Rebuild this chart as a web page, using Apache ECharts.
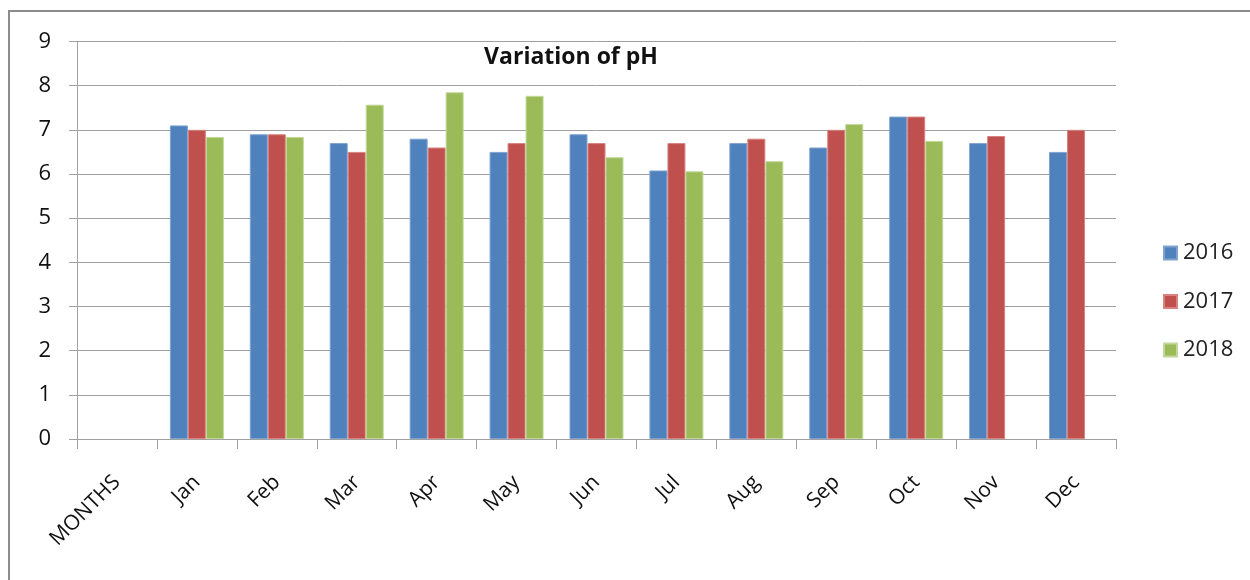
<!DOCTYPE html>
<html>
<head>
<meta charset="utf-8">
<script src="https://cdn.jsdelivr.net/npm/echarts@6/dist/echarts.min.js"></script>
<style>html,body{margin:0;padding:0;background:#fff}#c{width:1250px;height:580px}</style>
</head>
<body>
<div id="c"></div>
<script>
const categories = ['MONTHS','Jan','Feb','Mar','Apr','May','Jun','Jul','Aug','Sep','Oct','Nov','Dec'];
const s2016 = [null, 7.1, 6.9, 6.7, 6.8, 6.5, 6.9, 6.08, 6.7, 6.6, 7.3, 6.7, 6.5];
const s2017 = [null, 7.0, 6.9, 6.5, 6.6, 6.7, 6.7, 6.7, 6.8, 7.0, 7.3, 6.86, 7.0];
const s2018 = [null, 6.84, 6.84, 7.57, 7.85, 7.77, 6.38, 6.06, 6.29, 7.13, 6.75, null, null];
const yTicks = [0,1,2,3,4,5,6,7,8,9];

const font = 'Open Sans';
const chart = echarts.init(document.getElementById('c'));
const mk = (name, data, color, border) => ({
  name, type: 'bar', data, barWidth: 18, barGap: '0%',
  itemStyle: { color, borderColor: border, borderWidth: 1 }
});
chart.setOption({
  animation: false,
  backgroundColor: '#fff',
  title: {
    text: 'Variation of pH', left: 566, top: 38, textAlign: 'center',
    textStyle: { fontFamily: font, fontWeight: 'bold', fontSize: 23, color: '#111', lineHeight: 28 }
  },
  graphic: [{
    type: 'rect', shape: { x: 9, y: 11, width: 1300, height: 700 },
    style: { fill: 'none', stroke: '#8c8c8c', lineWidth: 2 }, silent: true, z: -1
  }],
  legend: {
    orient: 'vertical', left: 1158, top: 234, itemWidth: 13, itemHeight: 13, itemGap: 20.5,
    icon: 'rect',
    textStyle: { fontFamily: font, fontSize: 22, color: '#222', lineHeight: 28, padding: [0,0,0,1] },
    data: ['2016','2017','2018']
  },
  grid: { left: 77, right: 134, top: 41.5, bottom: 141, containLabel: false },
  xAxis: {
    type: 'category', data: categories,
    axisLine: { lineStyle: { color: '#a0a0a0', width: 1 } },
    axisTick: { show: true, length: 10, lineStyle: { color: '#a0a0a0' } },
    axisLabel: { rotate: 45, margin: 40, interval: 0,
      fontFamily: font, fontSize: 21, color: '#111' }
  },
  yAxis: {
    type: 'value', min: 0, max: 9, interval: 1,
    axisLine: { show: true, lineStyle: { color: '#a0a0a0', width: 1 } },
    axisTick: { show: true, length: 8, inside: false, lineStyle: { color: '#a0a0a0' } },
    splitLine: { lineStyle: { color: '#a0a0a0', width: 1 } },
    axisLabel: { margin: 26, fontFamily: font, fontSize: 22, color: '#111',
      formatter: v => yTicks.includes(v) ? String(v) : '' }
  },
  series: [
    mk('2016', s2016, '#4F81BD', '#7FA3D0'),
    mk('2017', s2017, '#C0504D', '#D98280'),
    mk('2018', s2018, '#9BBB59', '#C2D89A')
  ]
});
</script>
</body>
</html>
